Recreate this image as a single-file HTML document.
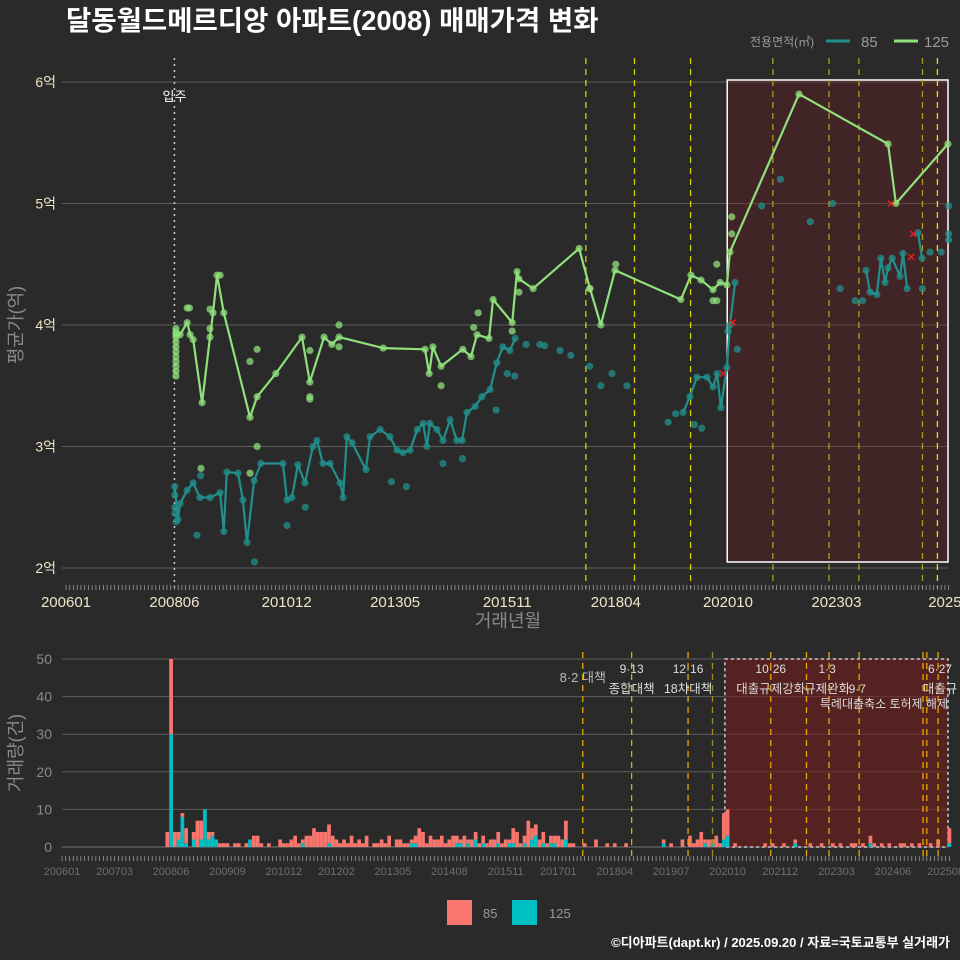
<!DOCTYPE html>
<html><head><meta charset="utf-8">
<style>
html,body{margin:0;padding:0;background:#2a2a2a;}
svg{display:block;font-family:"Liberation Sans","Noto Sans CJK KR",sans-serif;}
</style></head>
<body>
<svg id="chart" width="960" height="960" viewBox="0 0 960 960" xmlns="http://www.w3.org/2000/svg">
<rect x="0" y="0" width="960" height="960" fill="#2a2a2a"/>
<text x="66" y="30" font-size="27.5" font-weight="bold" fill="#ffffff">달동월드메르디앙 아파트(2008) 매매가격 변화</text>
<g>
<text x="750" y="46" font-size="12" fill="#9a9a9a">전용면적(㎡)</text>
<line x1="826" y1="41" x2="850" y2="41" stroke="#21908c" stroke-width="3"/>
<text x="861" y="47" font-size="15" fill="#9a9a9a">85</text>
<line x1="894" y1="41" x2="918" y2="41" stroke="#90e07c" stroke-width="3"/>
<text x="924" y="47" font-size="15" fill="#9a9a9a">125</text>
</g>
<g id="topPanel"></g>
<g id="botPanel"></g>
<g>
<rect x="447" y="900" width="25" height="25" fill="#f8766d"/>
<text x="483" y="918" font-size="13" fill="#9a9a9a">85</text>
<rect x="512" y="900" width="25" height="25" fill="#00bfc4"/>
<text x="549" y="918" font-size="13" fill="#9a9a9a">125</text>
</g>
<text x="950" y="947" font-size="13" font-weight="bold" fill="#ffffff" text-anchor="end">©디아파트(dapt.kr) / 2025.09.20 / 자료=국토교통부 실거래가</text>
</svg>
<script>
// ---- data (month index from 2006-01, price in 억) ----
const greenLineM = [29.4,30.5,32.4,33.2,34.0,36.4,38.5,39.3,40.4,42.2,49.2,51.1,56.1,63.1,65.2,69.0,71.1,73.0,84.8,96.0,97.1,98.1,100.3,106.1,108.3,109.9,113.1,114.2,119.3,120.6,121.1,124.9,137.2,140.1,143.0,146.8,164.4,167.1,169.8,173.0,174.9,176.7,177.5,196.0,219.8,221.9,235.8];
const greenLineP = [3.92,3.92,4.02,3.92,3.88,3.36,3.90,4.10,4.41,4.10,3.24,3.41,3.60,3.90,3.53,3.90,3.84,3.90,3.81,3.80,3.60,3.82,3.66,3.80,3.74,3.92,3.89,4.21,4.02,4.44,4.38,4.30,4.63,4.30,4.00,4.45,4.21,4.41,4.37,4.29,4.35,4.33,4.60,5.90,5.49,5.00,5.49];
const greenPtM = [29.4,29.4,29.4,29.4,29.4,29.4,29.4,29.4,29.4,29.4,29.4,32.4,33.0,38.5,38.5,41.2,49.2,51.1,65.2,65.2,65.2,73.0,73.0,100.3,110.2,109.0,121.1,119.3,51.1,36.1,49.2,178.0,178.0,174.0,173.0,174.0,147.0,140.0];
const greenPtP = [3.58,3.62,3.66,3.70,3.74,3.78,3.82,3.86,3.90,3.94,3.97,4.14,4.14,4.13,3.97,4.41,3.70,3.80,3.41,3.39,3.79,4.00,3.82,3.50,4.10,3.98,4.27,3.95,3.00,2.82,2.78,4.89,4.75,4.50,4.20,4.20,4.50,4.30];
const tealLineM = [29.1,29.9,30.5,32.4,34.0,35.8,38.5,41.2,42.2,43.0,46.0,47.3,48.4,50.3,52.1,58.0,59.1,60.4,62.0,63.9,66.0,67.1,68.7,70.6,73.3,74.1,75.1,76.5,80.2,81.3,84.0,86.6,88.5,90.1,92.0,93.9,95.5,96.5,97.3,99.2,100.8,102.7,104.5,105.9,107.2,109.4,111.2,113.4,115.2,116.8,118.7,120.1, null, 165.0,166.8,168.7,171.4,173.0,174.1,175.1,176.7,177.5,178.9, null, 213.9,215.0,216.8,217.9,219.0,219.8,220.9,223.0,223.8,224.9, null, 227.8,228.9];
const tealLineP = [2.67,2.40,2.53,2.64,2.70,2.58,2.58,2.62,2.30,2.79,2.78,2.56,2.21,2.72,2.86,2.86,2.56,2.58,2.85,2.70,3.00,3.05,2.86,2.86,2.70,2.58,3.08,3.03,2.81,3.08,3.14,3.08,2.97,2.95,2.97,3.14,3.19,3.00,3.19,3.14,3.05,3.22,3.05,3.05,3.28,3.33,3.41,3.47,3.69,3.82,3.79,3.89, null, 3.28,3.41,3.57,3.57,3.49,3.60,3.32,3.65,4.00,4.35, null, 4.45,4.27,4.25,4.55,4.35,4.47,4.55,4.40,4.59,4.30, null, 4.76,4.55];
const tealPtM = [29.1,29.1,29.1,29.5,36.0,35.0,50.4,59.1,64.0,87.0,91.0,100.8,106.0,115.0,118.0,120.0,123.0,126.7,128.0,132.1,135.0,140.0,143.0,146.0,150.0,161.0,163.0,186.0,191.0,199.0,205.0,207.0,211.0,213.0,229.0,231.0,234.0,236.0,236.0,236.0,179.5,177.0,170.0,168.0];
const tealPtP = [2.45,2.50,2.60,2.38,2.76,2.27,2.05,2.35,2.50,2.71,2.67,2.86,2.90,3.30,3.60,3.58,3.84,3.84,3.83,3.79,3.75,3.66,3.50,3.60,3.50,3.20,3.27,4.98,5.20,4.85,5.00,4.30,4.20,4.20,4.30,4.60,4.60,4.70,4.75,4.98,3.80,3.95,3.15,3.18];
const crossM = [178.3,175.7,220.6,226.5,226.0];
const crossP = [4.02,3.60,5.00,4.75,4.56];
const priceTicks = [2,3,4,5,6];
const priceTickLabels = ["2억","3억","4억","5억","6억"];
const topXTicks = [0,29,59,88,118,147,177,206,235];
const topXLabels = ["200601","200806","201012","201305","201511","201804","202010","202303","2025"];
const policyM = [139,152,167,189,204,212,229,233];
const moveInM = 29;
// volume: monthly counts starting at month index 28
const volStart = 28;
const vol85 = [4,
 20,4,2,1,4,0,2,7,5,0,
 2,1,0,1,1,1,0,1,1,0,
 1,0,3,3,1,0,1,0,0,2,
 1,1,2,3,1,1,3,3,5,4,
 4,4,5,3,2,1,2,1,3,1,
 2,1,3,0,1,1,2,1,3,0,
 2,2,1,1,1,2,5,4,1,3,
 2,2,3,1,2,3,2,1,3,1,
 2,2,1,2,1,2,2,3,1,2,
 1,4,4,1,2,7,3,3,2,3,
 1,2,2,3,2,5,1,1,0,0,
 1,0,0,2,0,0,1,0,1,0,
 0,1,0,0,0,0,0,0,0,0,
 0,1,0,1,0,0,2,0,3,1,
 2,4,1,2,1,3,1,7,7,0,
 1,0,0,0,0,0,0,0,1,0,
 1,0,0,1,0,0,1,0,0,0,
 1,0,0,1,0,0,1,0,1,0,
 0,1,1,0,1,0,2,1,0,1,
 0,1,0,0,1,1,0,1,0,1,
 0,0,1,0,2,0,0,4];
const vol125 = [0,
 30,0,2,8,1,0,2,0,2,10,
 2,3,2,0,0,0,0,0,0,0,
 0,2,0,0,0,0,0,0,0,0,
 0,0,0,0,0,1,0,0,0,0,
 0,0,1,0,0,0,0,0,0,0,
 0,0,0,0,0,0,0,0,0,0,
 0,0,0,0,1,1,0,0,0,0,
 0,0,0,0,0,0,1,1,0,1,
 0,2,0,1,0,0,0,1,0,0,
 1,1,0,0,1,0,2,3,0,1,
 0,1,1,0,0,2,0,0,0,0,
 0,0,0,0,0,0,0,0,0,0,
 0,0,0,0,0,0,0,0,0,0,
 0,1,0,0,0,0,0,0,0,0,
 0,0,1,0,1,0,0,2,3,0,
 0,0,0,0,0,0,0,0,0,0,
 0,0,0,0,0,0,1,0,0,0,
 0,0,0,0,0,0,0,0,0,0,
 0,0,0,0,0,0,1,0,0,0,
 0,0,0,0,0,0,0,0,0,0,
 0,0,0,0,0,0,0,1];
const volTicks = [0,10,20,30,40,50];
const botXTicks = [0,14,29,44,59,73,88,103,118,132,147,162,177,191,206,221,235];
const botXLabels = ["200601","200703","200806","200909","201012","201202","201305","201408","201511","201701","201804","201907","202010","202112","202303","202406","202508"];
const botPolicyM = [138.5,151.5,166.5,173,188.5,198,204,212,229,230,233];
const annoTop = [[138.5,"8·2 대책",""],[151.5,"9·13","종합대책"],[166.5,"12·16","18차대책"],[188.5,"10·26","대출규제강화"],[203.5,"1·3","규제완화"],[233.5,"6·27","대출규"]];

// ---- scales ----
const TX = m => 66 + m*3.74;
const TY = p => 568 - (p-2)*121.5;
const BX = m => 62 + m*3.76;
const BY = v => 847 - v*3.76;
const NS = "http://www.w3.org/2000/svg";
function mk(parent, tag, attrs){
  const e = document.createElementNS(NS, tag);
  for (const k in attrs) e.setAttribute(k, attrs[k]);
  parent.appendChild(e);
  return e;
}
const topG = document.getElementById('topPanel');
const botG = document.getElementById('botPanel');

// ---- top panel ----
priceTicks.forEach((p,i)=>{
  const g = mk(topG,'line',{x1:62,x2:948,y1:TY(p),y2:TY(p),stroke:'#5e5e5e','stroke-width':1});
  
  
  const t = mk(topG,'text',{x:56,y:TY(p)+5,'font-size':14,fill:'#efe6c4','text-anchor':'end'});
  t.textContent = priceTickLabels[i];
  
  
});
const hl = mk(topG,'rect',{x:TX(176.8),y:80,width:948-TX(176.8),height:482,fill:'rgba(110,25,30,0.35)',stroke:'#ffffff','stroke-width':1.5});


policyM.forEach((m,i)=>{
  const l = mk(topG,'line',{x1:TX(m),x2:TX(m),y1:58,y2:588,stroke:i==policyM.length-1?'#f0e000':(m>176?'#a8a020':'#d8d000'),'stroke-width':1.3,'stroke-dasharray':'6,5'});
  
  
});
const mv = mk(topG,'line',{x1:TX(moveInM),x2:TX(moveInM),y1:58,y2:588,stroke:'#cccccc','stroke-width':1.5,'stroke-dasharray':'2,4'});


const mvt = mk(topG,'text',{x:TX(moveInM),y:101,'font-size':13,fill:'#ffffff','text-anchor':'middle'});
mvt.textContent='입주';


function pathFrom(ms, ps, sx, sy){
  let d='', pen=false;
  for(let i=0;i<ms.length;i++){
    if(ms[i]===null||ps[i]===null){pen=false;continue;}
    d += (pen?'L':'M')+sx(ms[i]).toFixed(1)+','+sy(ps[i]).toFixed(1);
    pen=true;
  }
  return d;
}
tealPtM.forEach((m,i)=>{
  const c = mk(topG,'circle',{cx:TX(m),cy:TY(tealPtP[i]),r:3.6,fill:'#21908c','fill-opacity':0.75});
  
  
});
tealLineM.forEach((m,i)=>{
  if(m===null) return;
  const c = mk(topG,'circle',{cx:TX(m),cy:TY(tealLineP[i]),r:3.6,fill:'#21908c','fill-opacity':0.75});
  
  
});
const tl = mk(topG,'path',{d:pathFrom(tealLineM,tealLineP,TX,TY),fill:'none',stroke:'#21908c','stroke-width':2.2,'stroke-linejoin':'round'});


greenPtM.forEach((m,i)=>{
  const c = mk(topG,'circle',{cx:TX(m),cy:TY(greenPtP[i]),r:3.6,fill:'#90e07c','fill-opacity':0.75});
  
  
});
greenLineM.forEach((m,i)=>{
  const c = mk(topG,'circle',{cx:TX(m),cy:TY(greenLineP[i]),r:3.6,fill:'#90e07c','fill-opacity':0.75});
  
  
});
const gl = mk(topG,'path',{d:pathFrom(greenLineM,greenLineP,TX,TY),fill:'none',stroke:'#90e07c','stroke-width':2.2,'stroke-linejoin':'round'});


crossM.forEach((m,i)=>{
  const x=TX(m), y=TY(crossP[i]);
  const c = mk(topG,'path',{d:`M${x-3},${y-3}L${x+3},${y+3}M${x-3},${y+3}L${x+3},${y-3}`,stroke:'#e02020','stroke-width':1.5});
  
  
});
for(let m=0;m<=236;m++){
  const t = mk(topG,'line',{x1:TX(m),x2:TX(m),y1:585,y2:590,stroke:'#9a9a9a','stroke-width':0.8});
  
  
}
topXTicks.forEach((m,i)=>{
  const t = mk(topG,'text',{x:TX(m),y:607,'font-size':15,fill:'#efe6c4','text-anchor':'middle'});
  t.textContent = topXLabels[i];
  
  
});
const xt = mk(topG,'text',{x:508,y:627,'font-size':18,fill:'#8a8a8a','text-anchor':'middle'});
xt.textContent='거래년월';


const yt = mk(topG,'text',{x:0,y:0,'font-size':18,fill:'#8a8a8a','text-anchor':'middle',transform:'translate(22,325) rotate(-90)'});
yt.textContent='평균가(억)';



// ---- bottom panel ----
volTicks.forEach(v=>{
  const g = mk(botG,'line',{x1:62,x2:948,y1:BY(v),y2:BY(v),stroke:v===0?'#777':'#5e5e5e','stroke-width':1});
  
  
  const t = mk(botG,'text',{x:52,y:BY(v)+5,'font-size':14,fill:'#8a8a8a','text-anchor':'end'});
  t.textContent = v;
  
  
});
const bhl = mk(botG,'rect',{x:BX(176.3),y:BY(50),width:948-BX(176.3),height:BY(0)-BY(50),fill:'rgba(120,25,25,0.55)',stroke:'#cccccc','stroke-width':1.5,'stroke-dasharray':'3,3'});


vol85.forEach((v,i)=>{
  const m = volStart+i, t = vol125[i]||0;
  const x = BX(m)-1.8;
  if(t>0){
    const r = mk(botG,'rect',{x:x,y:BY(t),width:3.7,height:BY(0)-BY(t),fill:'#00bfc4'});
    
    
  }
  if(v>0){
    const r = mk(botG,'rect',{x:x,y:BY(t+v),width:3.7,height:BY(t)-BY(t+v),fill:'#f8766d'});
    
    
  }
});
botPolicyM.forEach((m,i)=>{
  const l = mk(botG,'line',{x1:BX(m),x2:BX(m),y1:652,y2:860,stroke:m===173?'#a09020':'#e6a800','stroke-width':1.3,'stroke-dasharray':'6,5'});
  
  
});
annoTop.forEach(a=>{
  const x = BX(a[0]);
  if(a[2]===""){
    const t = mk(botG,'text',{x:x,y:682,'font-size':13,fill:'#bbbbbb','text-anchor':'middle'});
    t.textContent=a[1];
    
    
  } else {
    const t1 = mk(botG,'text',{x:x,y:673,'font-size':12,fill:'#dddddd','text-anchor':'middle'});
    t1.textContent=a[1];
    
    
    const t2 = mk(botG,'text',{x:x,y:693,'font-size':12.5,fill:'#dddddd','text-anchor':'middle'});
    t2.textContent=a[2];
    
    
  }
});
const a97 = mk(botG,'text',{x:BX(211.5),y:693,'font-size':12,fill:'#dddddd','text-anchor':'middle'});
a97.textContent='9·7';


const a97b = mk(botG,'text',{x:948,y:708,'font-size':12,fill:'#dddddd','text-anchor':'end'});
a97b.textContent='특례대출축소 토허제 해제';


for(let m=0;m<=236;m++){
  const t = mk(botG,'line',{x1:BX(m),x2:BX(m),y1:856,y2:861,stroke:'#9a9a9a','stroke-width':0.8});
  
  
}
botXTicks.forEach((m,i)=>{
  const t = mk(botG,'text',{x:BX(m),y:875,'font-size':11,fill:'#6e6e6e','text-anchor':'middle'});
  t.textContent = botXLabels[i];
  
  
});
const byt = mk(botG,'text',{x:0,y:0,'font-size':18,fill:'#8a8a8a','text-anchor':'middle',transform:'translate(22,753) rotate(-90)'});
byt.textContent='거래량(건)';


</script>
</body></html>
